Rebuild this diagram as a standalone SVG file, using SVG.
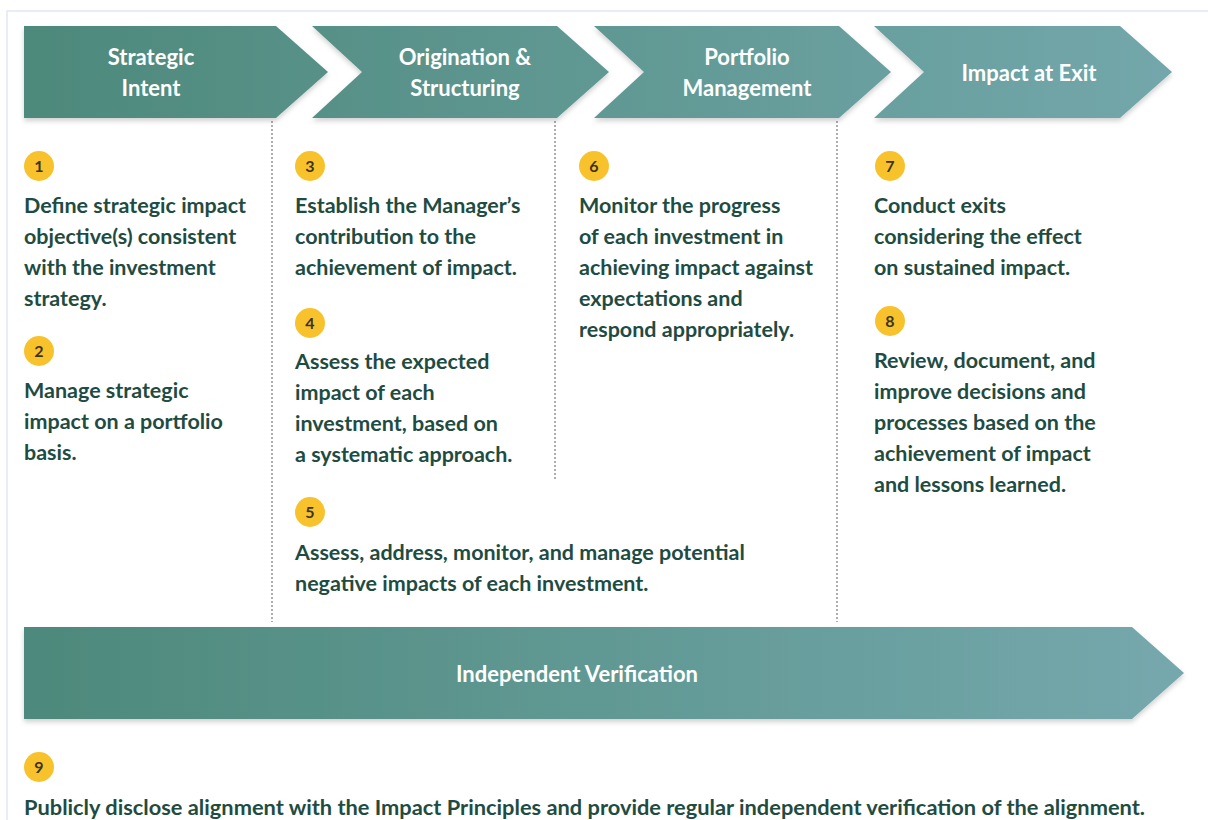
<svg xmlns="http://www.w3.org/2000/svg" width="1208" height="820" viewBox="0 0 1208 820">
<defs>
<linearGradient id="gTop" gradientUnits="userSpaceOnUse" x1="24" y1="0" x2="1172" y2="0">
<stop offset="0" stop-color="#4d897b"/>
<stop offset="1" stop-color="#73a7ab"/>
</linearGradient>
<linearGradient id="gBot" gradientUnits="userSpaceOnUse" x1="24" y1="0" x2="1184" y2="0">
<stop offset="0" stop-color="#4d897b"/>
<stop offset="1" stop-color="#75a8ad"/>
</linearGradient>
<filter id="sh" x="-5%" y="-10%" width="110%" height="130%">
<feDropShadow dx="0" dy="3" stdDeviation="2.5" flood-color="#000" flood-opacity="0.18"/>
</filter>
</defs>
<style>
.chev{fill:url(#gTop);filter:url(#sh)}
.bar{fill:url(#gBot);filter:url(#sh)}
.ttl{font-family:Lato,"Liberation Sans",sans-serif;font-weight:700;font-size:22px;fill:#ffffff;text-anchor:middle}
.txt{font-family:Lato,"Liberation Sans",sans-serif;font-weight:700;font-size:21.5px;fill:#1f4c42}
.num{font-family:Lato,"Liberation Sans",sans-serif;font-weight:700;font-size:16px;fill:#3b3520;text-anchor:middle}
.badge{fill:#f8c22c}
.dot{stroke:#9a9a9a;stroke-width:1.6;stroke-dasharray:2 2;fill:none}
.frame{stroke:#e3e6f3;stroke-width:1.5;fill:none}
</style>
<rect width="1208" height="820" fill="#ffffff"/>
<path class="frame" d="M7,820 V11 H1208"/>

<g id="connectors">
<line class="dot" x1="272" y1="121" x2="272" y2="622"/>
<line class="dot" x1="555" y1="121" x2="555" y2="481"/>
<line class="dot" x1="837" y1="121" x2="837" y2="622"/>
</g>

<g id="stage-strategic-intent">
<path class="chev" d="M24,26 H276 L328,72 L276,118 H24 Z"/>
<text class="ttl" x="151" y="65">Strategic</text>
<text class="ttl" x="151" y="96">Intent</text>
</g>
<g id="stage-origination">
<path class="chev" d="M312,26 H557 L609,72 L557,118 H312 L362,72 Z"/>
<text class="ttl" x="465" y="65">Origination &amp;</text>
<text class="ttl" x="465" y="96">Structuring</text>
</g>
<g id="stage-portfolio">
<path class="chev" d="M594,26 H839 L891,72 L839,118 H594 L644,72 Z"/>
<text class="ttl" x="747" y="65">Portfolio</text>
<text class="ttl" x="747" y="96">Management</text>
</g>
<g id="stage-exit">
<path class="chev" d="M874,26 H1120 L1172,72 L1120,118 H874 L924,72 Z"/>
<text class="ttl" x="1029" y="81">Impact at Exit</text>
</g>

<g id="item-1">
<circle class="badge" cx="39" cy="166" r="15"/>
<text class="num" x="39" y="172">1</text>
<text class="txt" x="24" y="213">Define strategic impact</text>
<text class="txt" x="24" y="244">objective(s) consistent</text>
<text class="txt" x="24" y="275">with the investment</text>
<text class="txt" x="24" y="306">strategy.</text>
</g>
<g id="item-2">
<circle class="badge" cx="39" cy="351" r="15"/>
<text class="num" x="39" y="357">2</text>
<text class="txt" x="24" y="398">Manage strategic</text>
<text class="txt" x="24" y="429">impact on a portfolio</text>
<text class="txt" x="24" y="460">basis.</text>
</g>
<g id="item-3">
<circle class="badge" cx="310" cy="166" r="15"/>
<text class="num" x="310" y="172">3</text>
<text class="txt" x="295" y="213">Establish the Manager’s</text>
<text class="txt" x="295" y="244">contribution to the</text>
<text class="txt" x="295" y="275">achievement of impact.</text>
</g>
<g id="item-4">
<circle class="badge" cx="310" cy="323" r="15"/>
<text class="num" x="310" y="329">4</text>
<text class="txt" x="295" y="369">Assess the expected</text>
<text class="txt" x="295" y="400">impact of each</text>
<text class="txt" x="295" y="431">investment, based on</text>
<text class="txt" x="295" y="462">a systematic approach.</text>
</g>
<g id="item-5">
<circle class="badge" cx="310" cy="512" r="15"/>
<text class="num" x="310" y="518">5</text>
<text class="txt" x="295" y="560">Assess, address, monitor, and manage potential</text>
<text class="txt" x="295" y="591">negative impacts of each investment.</text>
</g>
<g id="item-6">
<circle class="badge" cx="594" cy="166" r="15"/>
<text class="num" x="594" y="172">6</text>
<text class="txt" x="579" y="213">Monitor the progress</text>
<text class="txt" x="579" y="244">of each investment in</text>
<text class="txt" x="579" y="275">achieving impact against</text>
<text class="txt" x="579" y="306">expectations and</text>
<text class="txt" x="579" y="337">respond appropriately.</text>
</g>
<g id="item-7">
<circle class="badge" cx="890" cy="166" r="15"/>
<text class="num" x="890" y="172">7</text>
<text class="txt" x="874" y="213">Conduct exits</text>
<text class="txt" x="874" y="244">considering the effect</text>
<text class="txt" x="874" y="275">on sustained impact.</text>
</g>
<g id="item-8">
<circle class="badge" cx="890" cy="321" r="15"/>
<text class="num" x="890" y="327">8</text>
<text class="txt" x="874" y="368">Review, document, and</text>
<text class="txt" x="874" y="399">improve decisions and</text>
<text class="txt" x="874" y="430">processes based on the</text>
<text class="txt" x="874" y="461">achievement of impact</text>
<text class="txt" x="874" y="492">and lessons learned.</text>
</g>

<g id="independent-verification">
<path class="bar" d="M24,627 H1132 L1184,673 L1132,719 H24 Z"/>
<text class="ttl" x="577" y="682">Independent Verification</text>
</g>
<g id="item-9">
<circle class="badge" cx="39" cy="767" r="15"/>
<text class="num" x="39" y="773">9</text>
<text class="txt" x="24" y="815" textLength="1121" lengthAdjust="spacingAndGlyphs">Publicly disclose alignment with the Impact Principles and provide regular independent verification of the alignment.</text>
</g>
</svg>
